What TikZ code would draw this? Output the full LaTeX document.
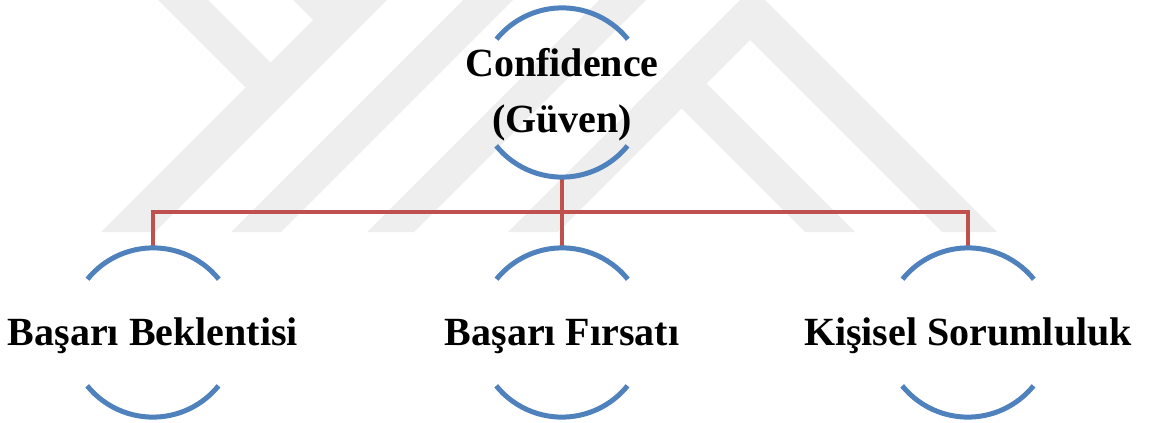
\documentclass[tikz,border=0pt]{standalone}
\usepackage{fontspec}
\setmainfont{Liberation Serif}
\usepackage{xcolor}
\usepackage{tikz}
\definecolor{ringblue}{HTML}{4F81BD}
\definecolor{linkred}{HTML}{C0504D}
\definecolor{wmgray}{HTML}{EEEEEE}

\begin{document}
\begin{tikzpicture}[x=1pt,y=1pt,
  ring/.style={circle,minimum size=169pt,inner sep=0pt},
  arcl/.style={line width=5pt,draw=ringblue},
  link/.style={line width=4.5pt,draw=linkred},
  ttl/.style={font=\bfseries\fontsize{40}{56}\selectfont,align=center,inner sep=0pt},
  lbl/.style={font=\bfseries\fontsize{40}{56}\selectfont,text height=28pt,text depth=3pt,inner sep=0pt}]
  \useasboundingbox (0,0) rectangle (1149,-423);
  % faint watermark in the back
  \fill[wmgray] (158,0) -- (208,0) -- (270.5,-62.5) -- (245.5,-87.5) -- cycle;
  \fill[wmgray] (293,0) -- (387,0) -- (155,-232) -- (101,-232) -- (313,-20) -- cycle;
  \fill[wmgray] (463,0) -- (513,0) -- (281,-232) -- (231,-232) -- cycle;
  \fill[wmgray] (599,0) -- (646,0) -- (414,-232) -- (367,-232) -- cycle;
  \fill[wmgray] (740,0) -- (765,0) -- (997,-232) -- (942,-232) -- (750,-40)
    -- (558,-232) -- (508,-232) -- cycle;
  \fill[wmgray] (681.5,-108.5) -- (706.5,-83.5) -- (855,-232) -- (805,-232) -- cycle;
  % rings
  \node[ring] (conf) at (562,-92.5) {};
  \node[ring] (basari) at (153,-332.5) {};
  \node[ring] (firsat) at (562,-332.5) {};
  \node[ring] (kisisel) at (968,-332.5) {};
  \coordinate (bar) at (562,-212);
  % tree lines
  \draw[link] (conf.south) -- (bar) -| (basari.north);
  \draw[link] (bar) -| (kisisel.north);
  \draw[link] (bar) -- (firsat.north);
  \foreach \n in {conf,basari,firsat,kisisel} {
    \draw[arcl] (\n.39) arc[start angle=39,end angle=141,radius=84.5];
    \draw[arcl] (\n.219) arc[start angle=219,end angle=321,radius=84.5];
  }
  % texts
  \node[ttl,yshift=-2pt] (confT) at (conf) {Confidence\\(Güven)};
  \node[lbl] (basariT) at (basari) {Başarı Beklentisi};
  \node[lbl] (firsatT) at (firsat) {Başarı Fırsatı};
  \node[lbl] (kisiselT) at (kisisel) {Kişisel Sorumluluk};
\end{tikzpicture}
\end{document}
